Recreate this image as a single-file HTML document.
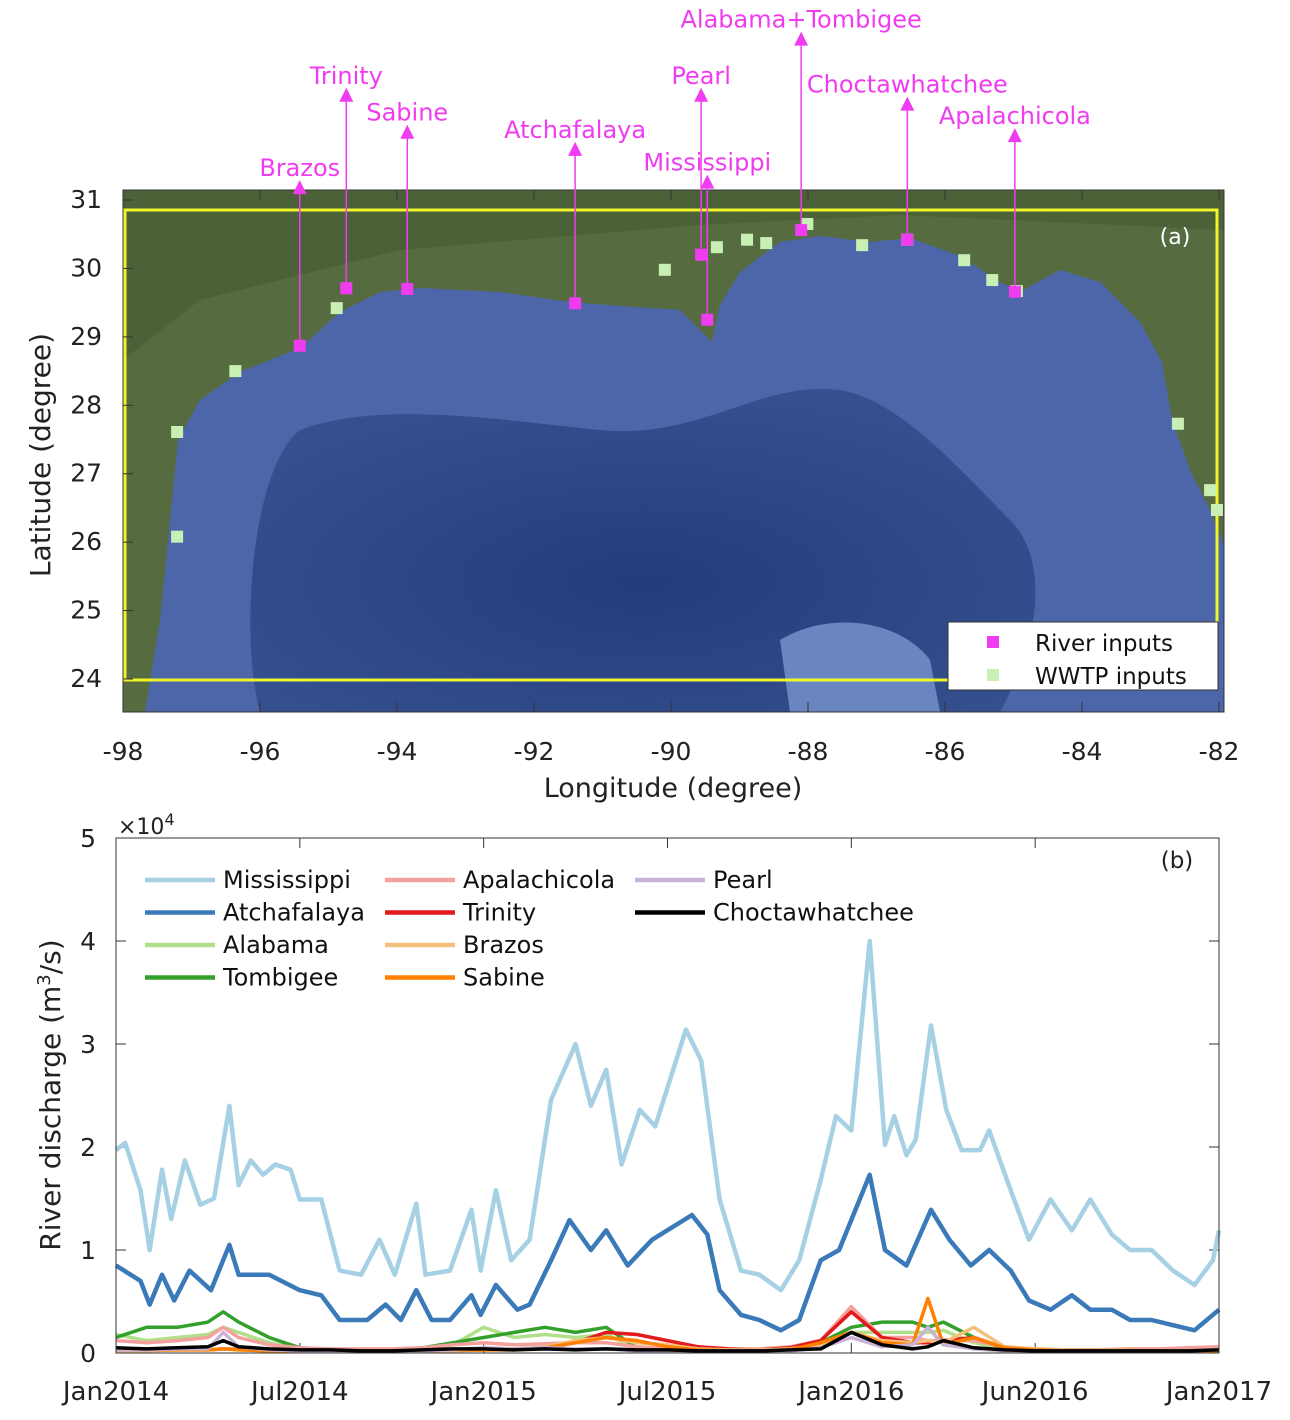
<!DOCTYPE html>
<html><head><meta charset="utf-8">
<style>
html,body{margin:0;padding:0;background:#fff;}
svg{display:block;font-family:"DejaVu Sans","Liberation Sans",sans-serif;}
</style></head>
<body>
<svg id="fig" width="1290" height="1420" viewBox="0 0 1290 1420">
  <defs>
    <radialGradient id="deep" cx="0.5" cy="0.6" r="0.6">
      <stop offset="0" stop-color="#243c7c"/>
      <stop offset="1" stop-color="#34508f"/>
    </radialGradient>
    <clipPath id="mapclip"><rect x="123" y="190" width="1101" height="522"/></clipPath>
  </defs>
  <g id="map" clip-path="url(#mapclip)">
    <rect x="123" y="190" width="1101" height="522" fill="#4d66aa"/>
    <path d="M300,430 C380,400 500,420 600,430 C700,440 760,380 840,390 C900,400 960,470 1010,520 C1050,560 1040,640 1000,712 L260,712 C240,640 250,470 300,430 Z" fill="url(#deep)"/>
    <path d="M123,190 L123,712 L145,712 L160,620 L170,520 L178,440 L200,400 L240,372 L300,348 L340,312 L380,292 L420,288 L500,292 L570,302 L620,306 L680,310 L700,330 L712,342 L720,305 L740,272 L780,242 L820,236 L870,242 L910,238 L960,256 L1000,282 L1020,292 L1060,270 L1100,282 L1140,322 L1162,362 L1172,420 L1190,470 L1210,510 L1224,545 L1224,190 Z" fill="#566c40"/>
    <path d="M123,190 L1224,190 L1224,230 L900,215 L700,225 L400,250 L200,300 L123,360 Z" fill="#485a34" opacity="0.6"/>
    <path d="M780,640 C830,610 900,620 930,660 L940,712 L790,712 Z" fill="#6a86c0"/>
    <rect x="125" y="210" width="1092" height="470" fill="none" stroke="#f0f52a" stroke-width="3"/>
  </g>
  <rect x="123" y="190" width="1101" height="522" fill="none" stroke="#333" stroke-width="1"/>
  <g id="mapAxes"></g>
  <g id="mapMarks"></g>
  <text x="1175" y="244" fill="#fff" font-size="22" text-anchor="middle">(a)</text>
  <g>
    <rect x="948" y="622" width="270" height="68" fill="#fff" stroke="#333" stroke-width="1"/>
    <rect x="987" y="636" width="12" height="12" fill="#f03cf0"/>
    <text x="1035" y="651" font-size="23" fill="#111">River inputs</text>
    <rect x="987" y="669" width="12" height="12" fill="#c8f0b4"/>
    <text x="1035" y="684" font-size="23" fill="#111">WWTP inputs</text>
  </g>
  <text transform="translate(50,455) rotate(-90)" font-size="28" text-anchor="middle" fill="#222">Latitude (degree)</text>
  <text x="673" y="797" font-size="27" text-anchor="middle" fill="#222">Longitude (degree)</text>

  <g id="chart"></g>
  <rect x="116" y="838" width="1103" height="515" fill="none" stroke="#333" stroke-width="1"/>
  <text x="118" y="834" font-size="22" fill="#222">×10<tspan font-size="16" dy="-9">4</tspan></text>
  <text transform="translate(60,1095) rotate(-90)" font-size="28" text-anchor="middle" fill="#222">River discharge (m<tspan font-size="18" dy="-10">3</tspan><tspan dy="10">/s)</tspan></text>
  <text x="1177" y="868" font-size="23" text-anchor="middle" fill="#222">(b)</text>
  <g id="legend"></g>
</svg>
<script>
const NS='http://www.w3.org/2000/svg';
function mk(tag,attrs,parent){const e=document.createElementNS(NS,tag);for(const k in attrs)e.setAttribute(k,attrs[k]);parent.appendChild(e);return e;}

// ---------- MAP ----------
const lonTicks=[-98,-96,-94,-92,-90,-88,-86,-84,-82];
const latTicks=[24,25,26,27,28,29,30,31];
const riverNames=['Brazos','Trinity','Sabine','Atchafalaya','Mississippi','Pearl','Alabama+Tombigee','Choctawhatchee','Apalachicola'];
const riverLon=[-95.42,-94.74,-93.85,-91.40,-89.47,-89.56,-88.10,-86.55,-84.98];
const riverLat=[28.87,29.71,29.70,29.49,29.25,30.20,30.56,30.42,29.66];
const riverLabelLat=[31.29,32.64,32.10,31.85,31.37,32.64,33.46,32.51,32.05];
const wwtpLon=[-97.21,-97.21,-96.36,-94.88,-90.09,-89.33,-88.89,-88.61,-88.01,-87.21,-86.55,-85.72,-85.31,-84.95,-82.60,-82.13,-82.03];
const wwtpLat=[27.61,26.08,28.50,29.42,29.98,30.31,30.42,30.37,30.65,30.34,30.42,30.12,29.83,29.67,27.73,26.76,26.47];
const px=lon=>123+(lon+98)*68.5;
const py=lat=>200+(31-lat)*68.43;
const ma=document.getElementById('mapAxes');
lonTicks.forEach(l=>{
  const x=px(l);
  const t=mk('line',{x1:x,x2:x,y1:712,y2:702,stroke:'#333'},ma);
  
  
  const t2=mk('line',{x1:x,x2:x,y1:190,y2:200,stroke:'#333'},ma);
  
  
  const lb=mk('text',{x:x,y:760,'font-size':25,'text-anchor':'middle',fill:'#222'},ma);
  lb.textContent=String(l);
  
  
});
latTicks.forEach(l=>{
  const y=py(l);
  const t=mk('line',{x1:123,x2:133,y1:y,y2:y,stroke:'#333'},ma);
  
  
  const lb=mk('text',{x:102,y:y+8,'font-size':25,'text-anchor':'end',fill:'#222'},ma);
  lb.textContent=String(l);
  
  
});
const mm=document.getElementById('mapMarks');
wwtpLon.forEach((lo,i)=>{
  const r=mk('rect',{x:px(lo)-6,y:py(wwtpLat[i])-6,width:12,height:12,fill:'#c8f0b4'},mm);
  
  
});
riverLon.forEach((lo,i)=>{
  const x=px(lo),y=py(riverLat[i]),ty=py(riverLabelLat[i]);
  const ln=mk('line',{x1:x,x2:x,y1:y,y2:ty+10,stroke:'#f03cf0','stroke-width':1.5},mm);
  
  
  const hd=mk('polygon',{points:`${x-7},${ty+14} ${x+7},${ty+14} ${x},${ty}`,fill:'#f03cf0'},mm);
  
  
  const r=mk('rect',{x:x-6,y:y-6,width:12,height:12,fill:'#f03cf0'},mm);
  
  
  const t=mk('text',{x:x,y:ty-4,'font-size':24,'text-anchor':'middle',fill:'#f03cf0'},mm);
  t.textContent=riverNames[i];
  
  
});

// ---------- CHART ----------
const xTickMonths=[0,6,12,18,24,30,36];
const xTickLabels=['Jan2014','Jul2014','Jan2015','Jul2015','Jan2016','Jun2016','Jan2017'];
const yTicks=[0,1,2,3,4,5];
const missT=[0,0.3,0.8,1.1,1.5,1.8,2.25,2.75,3.2,3.7,4.0,4.4,4.8,5.2,5.7,6.0,6.7,7.3,8.0,8.6,9.1,9.8,10.1,10.9,11.6,11.9,12.4,12.9,13.5,14.2,15.0,15.5,16.0,16.5,17.1,17.6,18.6,19.1,19.7,20.4,21.0,21.7,22.3,23.0,23.5,24.0,24.6,25.1,25.4,25.8,26.1,26.6,27.1,27.6,28.2,28.5,29.2,29.8,30.5,31.2,31.8,32.5,33.1,33.8,34.5,35.2,35.8,36];
const missV=[19.7,20.4,15.8,10,17.8,13,18.7,14.4,15,24,16.3,18.7,17.3,18.3,17.8,14.9,14.9,8,7.6,11,7.6,14.5,7.6,8,13.9,8,15.8,9,11,24.6,30,24,27.5,18.3,23.6,22,31.4,28.4,14.9,8,7.6,6.1,9,16.8,23,21.6,40,20.2,23,19.2,20.7,31.8,23.6,19.7,19.7,21.6,15.8,11,14.9,11.9,14.9,11.5,10,10,8,6.6,9,11.9];
const atchT=[0,0.8,1.1,1.5,1.9,2.4,3.1,3.7,4.0,5.0,6.0,6.7,7.3,8.2,8.8,9.3,9.8,10.3,10.9,11.6,11.9,12.4,13.1,13.5,14.2,14.8,15.5,16.0,16.7,17.5,18.8,19.3,19.7,20.4,21.0,21.7,22.3,23.0,23.6,24.6,25.1,25.8,26.6,27.2,27.9,28.5,29.2,29.8,30.5,31.2,31.8,32.5,33.1,33.8,34.5,35.2,36];
const atchV=[8.5,7,4.7,7.6,5.1,8,6.1,10.5,7.6,7.6,6.1,5.6,3.2,3.2,4.7,3.2,6.1,3.2,3.2,5.6,3.7,6.6,4.2,4.7,9,12.9,10,11.9,8.5,11,13.4,11.5,6.1,3.7,3.2,2.2,3.2,9,10,17.3,10,8.5,13.9,11,8.5,10,8,5.1,4.2,5.6,4.2,4.2,3.2,3.2,2.7,2.2,4.2];
const smallT=[0,1,2,3,3.5,4,5,6,7,8,9,10,11,12,13,14,15,16,17,18,19,20,21,22,23,24,25,26,26.5,27,28,29,30,31,32,33,34,35,36];
const tombV=[1.5,2.5,2.5,3,4,3,1.5,0.5,0.3,0.2,0.2,0.5,1,1.5,2,2.5,2,2.5,0.5,0.3,0.2,0.2,0.2,0.3,1,2.5,3,3,2.5,3,1.5,0.5,0.3,0.3,0.3,0.2,0.2,0.2,0.3];
const alabV=[1.8,1.2,1.5,1.8,2.5,2,1,0.4,0.3,0.2,0.2,0.4,0.8,2.5,1.5,1.8,1.5,1.8,0.4,0.3,0.2,0.2,0.2,0.3,0.8,2,2,2,2,2.2,1,0.4,0.3,0.3,0.2,0.2,0.2,0.2,0.3];
const apalV=[1.2,1,1.2,1.5,2.5,1.5,0.8,0.5,0.4,0.4,0.4,0.5,0.8,1,0.8,0.9,1,1,0.6,0.4,0.3,0.3,0.4,0.6,1.2,4.5,1.5,1.5,1.2,1.2,1.2,0.6,0.4,0.3,0.3,0.4,0.4,0.5,0.6];
const trinV=[0.3,0.3,0.4,0.3,0.4,0.4,0.3,0.2,0.2,0.2,0.2,0.2,0.3,0.3,0.4,0.5,1,2,1.8,1.2,0.6,0.4,0.3,0.5,1.2,4,1.5,1,1,1.2,1.5,0.5,0.3,0.3,0.3,0.3,0.2,0.2,0.2];
const brazV=[0.2,0.2,0.3,0.3,0.4,0.4,0.3,0.2,0.2,0.2,0.2,0.2,0.2,0.3,0.3,0.6,1.2,1.5,1,0.8,0.4,0.3,0.3,0.4,0.8,2,1.2,1,1.2,1,2.5,0.6,0.4,0.3,0.3,0.3,0.2,0.2,0.2];
const sabiV=[0.3,0.3,0.3,0.3,0.4,0.3,0.2,0.2,0.2,0.2,0.2,0.2,0.3,0.3,0.3,0.5,1,1.5,1.2,0.6,0.3,0.2,0.2,0.3,1,2,1,0.8,5.3,0.8,1.5,0.5,0.3,0.2,0.2,0.2,0.2,0.2,0.2];
const pearV=[0.3,0.3,0.4,0.4,2,0.6,0.3,0.2,0.2,0.2,0.2,0.2,0.3,0.5,0.4,0.5,0.4,0.4,0.2,0.2,0.2,0.2,0.2,0.2,0.5,1.5,0.6,0.8,2.5,0.8,0.4,0.2,0.2,0.2,0.2,0.2,0.2,0.2,0.3];
const choV=[0.5,0.4,0.5,0.6,1.2,0.6,0.4,0.3,0.3,0.2,0.2,0.3,0.4,0.4,0.3,0.4,0.3,0.4,0.3,0.3,0.2,0.2,0.2,0.3,0.4,2,0.8,0.4,0.6,1.2,0.5,0.3,0.2,0.2,0.2,0.2,0.2,0.2,0.3];

const X0=116,X1=1219,Y0=1353,YTOP=838;
const sx=m=>X0+m/36*(X1-X0);
const sy=v=>Y0-v/50*(Y0-YTOP); // v in thousands m3/s
const ch=document.getElementById('chart');
yTicks.forEach(v=>{
  const y=sy(v*10);
  const a=mk('line',{x1:X0,x2:X0+10,y1:y,y2:y,stroke:'#333'},ch);
  
  
  const b=mk('line',{x1:X1,x2:X1-10,y1:y,y2:y,stroke:'#333'},ch);
  
  
  const t=mk('text',{x:96,y:y+9,'font-size':25,'text-anchor':'end',fill:'#222'},ch);
  t.textContent=String(v);
  
  
});
xTickMonths.forEach((m,i)=>{
  const x=sx(m);
  const a=mk('line',{x1:x,x2:x,y1:Y0,y2:Y0-10,stroke:'#333'},ch);
  
  
  const b=mk('line',{x1:x,x2:x,y1:YTOP,y2:YTOP+10,stroke:'#333'},ch);
  
  
  const t=mk('text',{x:x,y:1400,'font-size':26,'text-anchor':'middle',fill:'#222'},ch);
  t.textContent=xTickLabels[i];
  
  
});
function series(T,V,color,w,name){
  const pts=T.map((m,i)=>sx(m).toFixed(1)+','+sy(V[i]).toFixed(1)).join(' ');
  const p=mk('polyline',{points:pts,fill:'none',stroke:color,'stroke-width':w,'stroke-linejoin':'round'},ch);
  
  
}
series(missT,missV,'#a6d0e4',4.5,'mississippi-line');
series(atchT,atchV,'#3a7ab8',4.5,'atchafalaya-line');
series(smallT,alabV,'#b2df8a',3.5,'alabama-line');
series(smallT,tombV,'#33a02c',3.5,'tombigee-line');
series(smallT,apalV,'#f4a09c',3.5,'apalachicola-line');
series(smallT,trinV,'#e31a1c',3.5,'trinity-line');
series(smallT,brazV,'#f5c07a',3.5,'brazos-line');
series(smallT,sabiV,'#ff7f00',3.5,'sabine-line');
series(smallT,pearV,'#cab2d6',3.5,'pearl-line');
series(smallT,choV,'#000000',3.5,'choctawhatchee-line');

const legNames=['Mississippi','Atchafalaya','Alabama','Tombigee','Apalachicola','Trinity','Brazos','Sabine','Pearl','Choctawhatchee'];
const legColors=['#a6d0e4','#3a7ab8','#b2df8a','#33a02c','#f4a09c','#e31a1c','#f5c07a','#ff7f00','#cab2d6','#000000'];
const lg=document.getElementById('legend');
legNames.forEach((n,i)=>{
  const col=i<4?0:(i<8?1:2), row=i<4?i:(i<8?i-4:i-8);
  const lx=[145,385,635][col], y=880+row*32.5;
  const l=mk('line',{x1:lx,x2:lx+70,y1:y,y2:y,stroke:legColors[i],'stroke-width':4.5},lg);
  
  
  const t=mk('text',{x:lx+78,y:y+8,'font-size':24,fill:'#111'},lg);
  t.textContent=n;
  
  
});
</script>
</body></html>
